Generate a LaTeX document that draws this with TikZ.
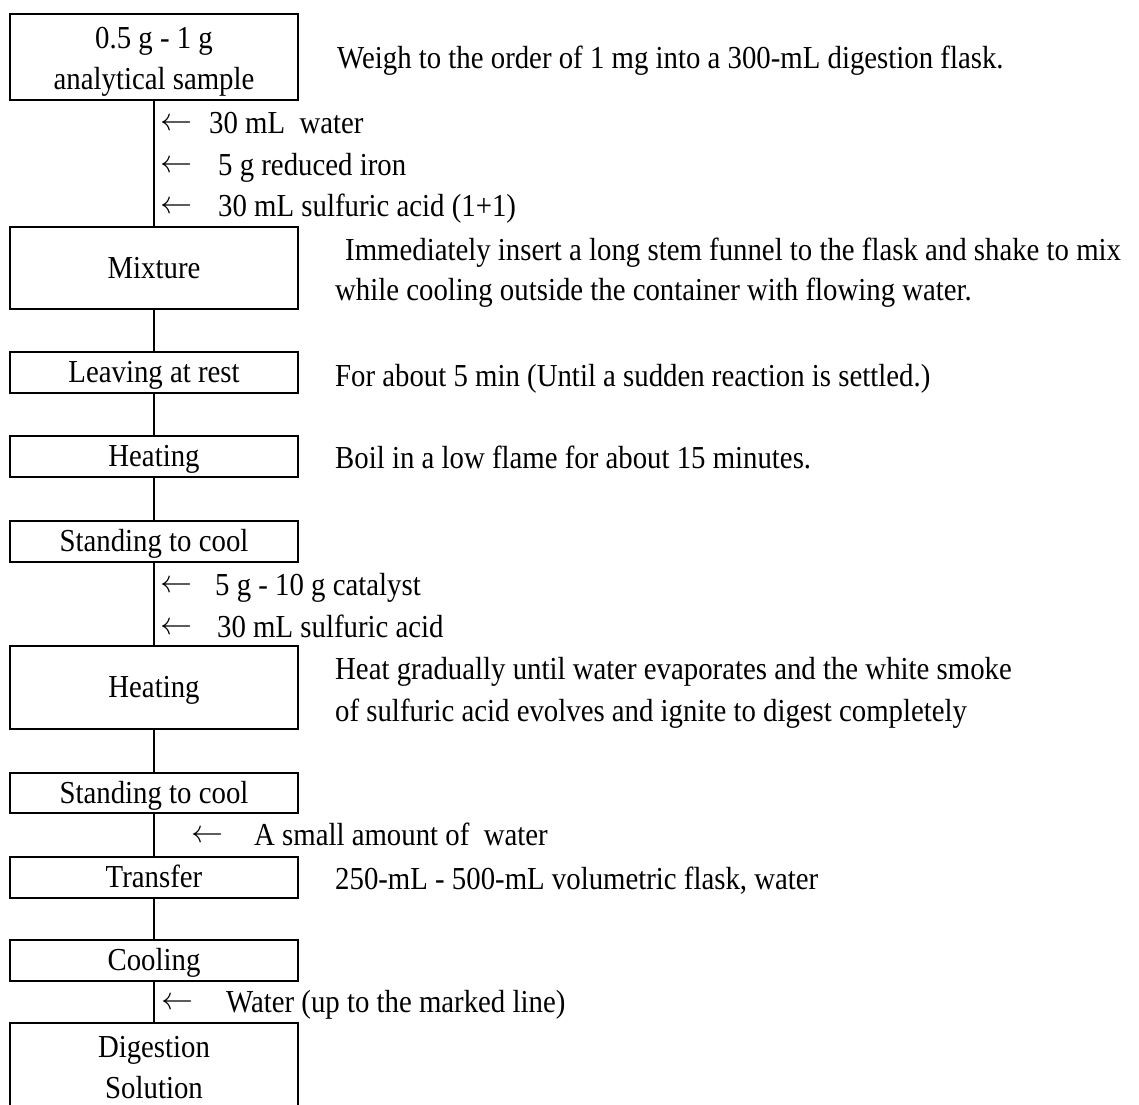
\RequirePackage{fix-cm}
\documentclass[tikz,border=0pt]{standalone}
\usepackage{fontspec}
\setmainfont{Liberation Serif}[FakeStretch=0.9]
\usetikzlibrary{positioning}

\newcommand{\addarrow}[1]{\raisebox{3pt}{$\leftarrow$}\hspace{#1}}

\begin{document}
\begin{tikzpicture}[x=1pt,y=-1pt,
    font=\fontsize{32}{41}\selectfont,
    proc/.style={draw, line width=1.3pt, minimum width=288pt, inner sep=0pt, align=center},
    proc1/.style={proc, text height=27pt, text depth=7pt},
    note/.style={anchor=base west, inner sep=0pt}]
                \useasboundingbox (0,0) rectangle (1139,1104);

                \node[proc,  minimum height=86pt] (sample) at (154,57)     {\rule{0pt}{30pt}0.5 g - 1 g\\analytical sample};
                \node[proc1, minimum height=82pt] (mix)    at (154,268)    {Mixture};
                \node[proc1, minimum height=41pt] (rest)   at (154,372.5)  {Leaving at rest};
                \node[proc1, minimum height=41pt] (heat1)  at (154,456.5)  {Heating};
                \node[proc1, minimum height=41pt] (cool1)  at (154,541.5)  {Standing to cool};
                \node[proc1, minimum height=83pt] (heat2)  at (154,687.5)  {Heating};
                \node[proc1, minimum height=40pt] (cool2)  at (154,793)    {Standing to cool};
                \node[proc1, minimum height=41pt] (trans)  at (154,877.5)  {Transfer};
                \node[proc1, minimum height=41pt] (cool3)  at (154,960.5)  {Cooling};
                \node[proc,  minimum height=84pt] (sol)    at (154,1065)   {\rule{0pt}{27pt}Digestion\\Solution};

                \node[note] (add1) at (160,133)  {\addarrow{17pt}30 mL\ \ water};
                \node[note] (add2) at (160,175)  {\addarrow{26pt}5 g reduced iron};
                \node[note] (add3) at (160,216)  {\addarrow{26pt}30 mL sulfuric acid (1+1)};
                \node[note] (add4) at (160,595)  {\addarrow{23pt}5 g - 10 g catalyst};
                \node[note] (add5) at (160,637)  {\addarrow{25pt}30 mL sulfuric acid};
                \node[note] (add6) at (191,845)  {\addarrow{31pt}A small amount of\ \ water};
                \node[note] (add7) at (161,1012) {\addarrow{33pt}Water (up to the marked line)};

                \node[note] (txt1) at (337,68)  {Weigh to the order of 1 mg into a 300-mL digestion flask.};
                \node[note] (txt2) at (345,260) {Immediately insert a long stem funnel to the flask and shake to mix};
                \node[note] (txt3) at (335,300) {while cooling outside the container with flowing water.};
                \node[note] (txt4) at (335,386) {For about 5 min (Until a sudden reaction is settled.)};
                \node[note] (txt5) at (335,468) {Boil in a low flame for about 15 minutes.};
                \node[note] (txt6) at (335,679) {Heat gradually until water evaporates and the white smoke};
                \node[note] (txt7) at (335,721) {of sulfuric acid evolves and ignite to digest completely};
                \node[note] (txt8) at (335,889) {250-mL - 500-mL volumetric flask, water};

                \draw[line width=1.3pt]
                (sample) -- (mix)
                (mix)    -- (rest)
                (rest)   -- (heat1)
                (heat1)  -- (cool1)
                (cool1)  -- (heat2)
                (heat2)  -- (cool2)
                (cool2)  -- (trans)
                (trans)  -- (cool3)
                (cool3)  -- (sol);
            \end{tikzpicture}
\end{document}
